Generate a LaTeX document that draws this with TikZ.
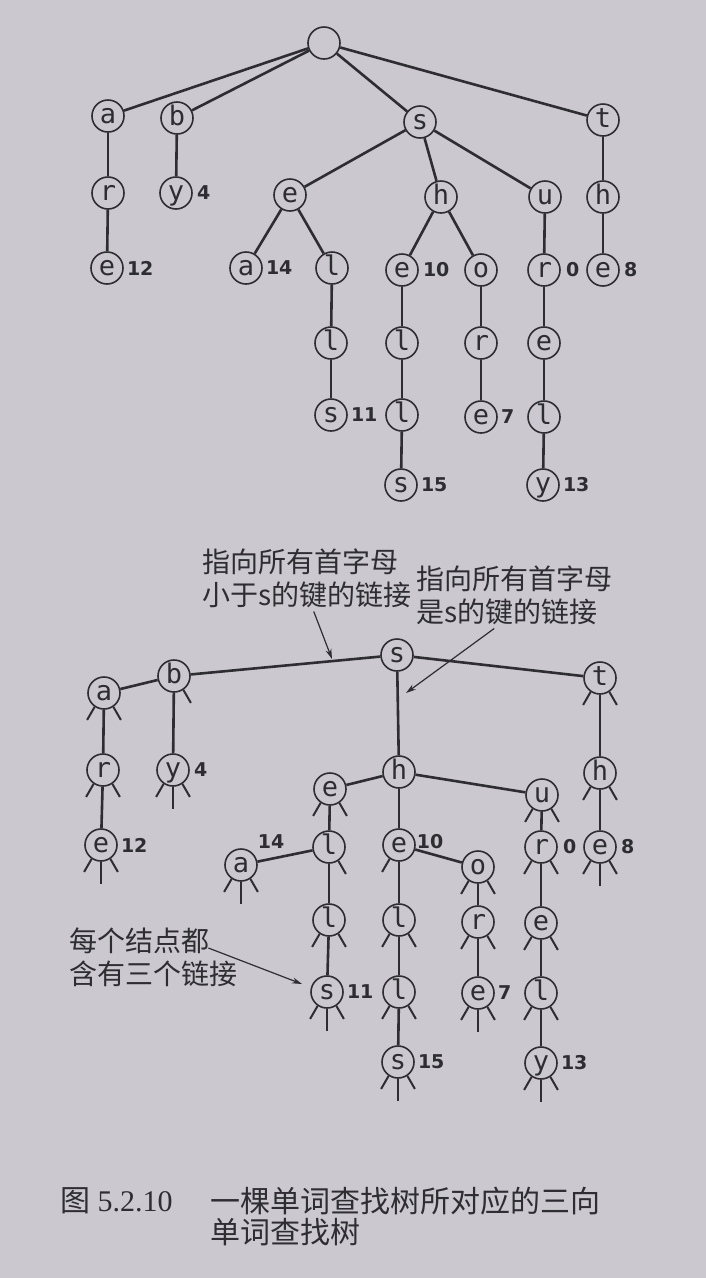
\documentclass[tikz,border=0pt]{standalone}
\usepackage{fontspec}
\setmainfont{Liberation Serif}
\newfontfamily\keyfont{DejaVu Sans Mono}
\newfontfamily\valfont{DejaVu Sans}
\newfontfamily\cjkfont{Noto Sans CJK SC}
\usetikzlibrary{positioning,arrows.meta,calc}

\definecolor{paper}{RGB}{203,201,207}
\definecolor{ink}{RGB}{45,45,50}

\tikzset{
  key/.style={circle, draw=ink, line width=1.6pt, minimum size=32pt, inner sep=0pt,
    text=ink, text height=14pt, text depth=0pt, font=\keyfont\fontsize{27}{27}\selectfont},
  val/.style={inner sep=0pt, text=ink, font=\valfont\bfseries\fontsize{19}{19}\selectfont},
  link/.style={draw=ink, line width=2.6pt},
  stub/.style={draw=ink, line width=2pt},
  note/.style={inner sep=0pt, align=left, anchor=north west, text=ink,
    font=\cjkfont\fontsize{28}{33}\selectfont},
  pointer/.style={draw=ink, line width=1.2pt, -{Stealth[length=10pt,width=6pt]}},
}

\newcommand{\nullL}[1]{\draw[stub] (#1.236) -- ++(240:15);}
\newcommand{\nullM}[1]{\draw[stub] (#1.south) -- ++(0,-22);}
\newcommand{\nullR}[1]{\draw[stub] (#1.304) -- ++(300:15);}

\begin{document}
\begin{tikzpicture}[x=1pt, y=1pt]
\fill[paper] (0,0) rectangle (706,-1278);

% R-way trie
\node[key] (T) at (324,-43) {};
\node[key] (Ta) at (108,-116) {a};
\node[key] (Tb) at (177,-118) {b};
\node[key] (Ts) at (420,-122) {s};
\node[key] (Tt) at (603,-120) {t};
\node[key] (Tar) at (108,-193) {r};
\node[key] (Tby) at (176,-193) {y};
\node[key] (Tse) at (290,-195) {e};
\node[key] (Tsh) at (441,-197) {h};
\node[key] (Tsu) at (545,-197) {u};
\node[key] (Tth) at (603,-197) {h};
\node[key] (Tare) at (107,-268) {e};
\node[key] (Tsea) at (246,-268) {a};
\node[key] (Tsel) at (332,-268) {l};
\node[key] (Tshe) at (402,-270) {e};
\node[key] (Tsho) at (481,-270) {o};
\node[key] (Tsur) at (544,-270) {r};
\node[key] (Tthe) at (603,-270) {e};
\node[key] (Tsell) at (331,-343) {l};
\node[key] (Tshel) at (402,-343) {l};
\node[key] (Tshor) at (481,-343) {r};
\node[key] (Tsure) at (544,-343) {e};
\node[key] (Tsells) at (331,-415) {s};
\node[key] (Tshell) at (402,-415) {l};
\node[key] (Tshore) at (481,-417) {e};
\node[key] (Tsurel) at (544,-417) {l};
\node[key] (Tshells) at (401,-485) {s};
\node[key] (Tsurely) at (543,-485) {y};

\foreach \u/\v in {T/Ta, T/Tb, T/Ts, T/Tt, Ta/Tar, Tar/Tare, Tb/Tby, Ts/Tse, Ts/Tsh, Ts/Tsu,
    Tt/Tth, Tth/Tthe, Tse/Tsea, Tse/Tsel, Tsel/Tsell, Tsell/Tsells, Tsh/Tshe, Tsh/Tsho,
    Tshe/Tshel, Tshel/Tshell, Tshell/Tshells, Tsho/Tshor, Tshor/Tshore, Tsu/Tsur,
    Tsur/Tsure, Tsure/Tsurel, Tsurel/Tsurely}
  \draw[link] (\u) -- (\v);

\node[val, right=4pt of Tby] (Vby) {4};
\node[val, right=3pt of Tare] (Vare) {12};
\node[val, right=3pt of Tsea] (Vsea) {14};
\node[val, right=4pt of Tshe] (Vshe) {10};
\node[val, right=5pt of Tsur] (Vsur) {0};
\node[val, right=4pt of Tthe] (Vthe) {8};
\node[val, right=3pt of Tsells] (Vsells) {11};
\node[val, right=3pt of Tshore] (Vshore) {7};
\node[val, right=3pt of Tshells] (Vshells) {15};
\node[val, right=3pt of Tsurely] (Vsurely) {13};

% ternary search trie
\node[key] (Bs) at (397,-655) {s};
\node[key] (Bb) at (174,-676) {b};
\node[key] (Ba) at (104,-693) {a};
\node[key] (Bt) at (600,-678) {t};
\node[key] (Bar) at (103,-770) {r};
\node[key] (Bby) at (173,-770) {y};
\node[key] (Bsh) at (399,-772) {h};
\node[key] (Bse) at (330,-789) {e};
\node[key] (Bsu) at (542,-795) {u};
\node[key] (Bth) at (600,-773) {h};
\node[key] (Bare) at (101,-845) {e};
\node[key] (Bsel) at (329,-847) {l};
\node[key] (Bsea) at (241,-865) {a};
\node[key] (Bshe) at (399,-845) {e};
\node[key] (Bsho) at (478,-867) {o};
\node[key] (Bsur) at (541,-847) {r};
\node[key] (Bthe) at (600,-847) {e};
\node[key] (Bsell) at (329,-920) {l};
\node[key] (Bshel) at (399,-920) {l};
\node[key] (Bshor) at (478,-922) {r};
\node[key] (Bsure) at (541,-923) {e};
\node[key] (Bsells) at (327,-992) {s};
\node[key] (Bshell) at (399,-992) {l};
\node[key] (Bshore) at (478,-993) {e};
\node[key] (Bsurel) at (541,-993) {l};
\node[key] (Bshells) at (398,-1062) {s};
\node[key] (Bsurely) at (541,-1063) {y};

\foreach \u/\v in {Bs/Bb, Bb/Ba, Bs/Bt, Bs/Bsh, Ba/Bar, Bar/Bare, Bb/Bby, Bt/Bth, Bth/Bthe,
    Bsh/Bse, Bsh/Bshe, Bsh/Bsu, Bse/Bsel, Bsel/Bsea, Bsel/Bsell, Bsell/Bsells, Bshe/Bsho,
    Bshe/Bshel, Bshel/Bshell, Bshell/Bshells, Bsho/Bshor, Bshor/Bshore, Bsu/Bsur,
    Bsur/Bsure, Bsure/Bsurel, Bsurel/Bsurely}
  \draw[link] (\u) -- (\v);

\foreach \n in {Bare, Bby, Bsea, Bsells, Bshore, Bshells, Bsurely, Bthe}
  {\nullL{\n}\nullM{\n}\nullR{\n}}
\foreach \n in {Ba, Bar, Bt, Bth, Bse, Bsho, Bshor, Bsell, Bshel, Bshell, Bsu, Bsur, Bsure, Bsurel}
  {\nullL{\n}\nullR{\n}}
\nullR{Bb}
\nullR{Bsel}
\nullL{Bshe}

\node[val, right=4pt of Bby] (Wby) {4};
\node[val, right=3pt of Bare] (Ware) {12};
\node[val] (Wsea) at (271,-842) {14};
\node[val] (Wshe) at (430,-842) {10};
\node[val, right=5pt of Bsur] (Wsur) {0};
\node[val, right=4pt of Bthe] (Wthe) {8};
\node[val, right=3pt of Bsells] (Wsells) {11};
\node[val, right=3pt of Bshore] (Wshore) {7};
\node[val, right=3pt of Bshells] (Wshells) {15};
\node[val, right=3pt of Bsurely] (Wsurely) {13};

\node[note] (note1) at (202,-549) {指向所有首字母\\小于s的键的链接};
\node[note] (note2) at (416,-566) {指向所有首字母\\是s的键的链接};
\node[note] (note3) at (69,-928) {每个结点都\\含有三个链接};
\coordinate (tip1) at (332,-659);
\coordinate (tip2) at (406,-693);
\coordinate (tip3) at (302,-984);
\draw[pointer] ([shift={(7,-3)}]note1.south) -- (tip1);
\draw[pointer] ([shift={(-20,-3)}]note2.south) -- (tip2);
\draw[pointer] ([shift={(-29,-20)}]note3.north east) -- (tip3);

% caption
\node[anchor=north west, inner sep=0pt, text=ink, font=\fontsize{30}{31}\selectfont] (capnum) at (60,-1187) {{\cjkfont 图} 5.2.10};
\node[anchor=north west, inner sep=0pt, text=ink, align=left, font=\cjkfont\fontsize{30}{31}\selectfont] (captext) at (210,-1187) {一棵单词查找树所对应的三向\\单词查找树};
\end{tikzpicture}
\end{document}
